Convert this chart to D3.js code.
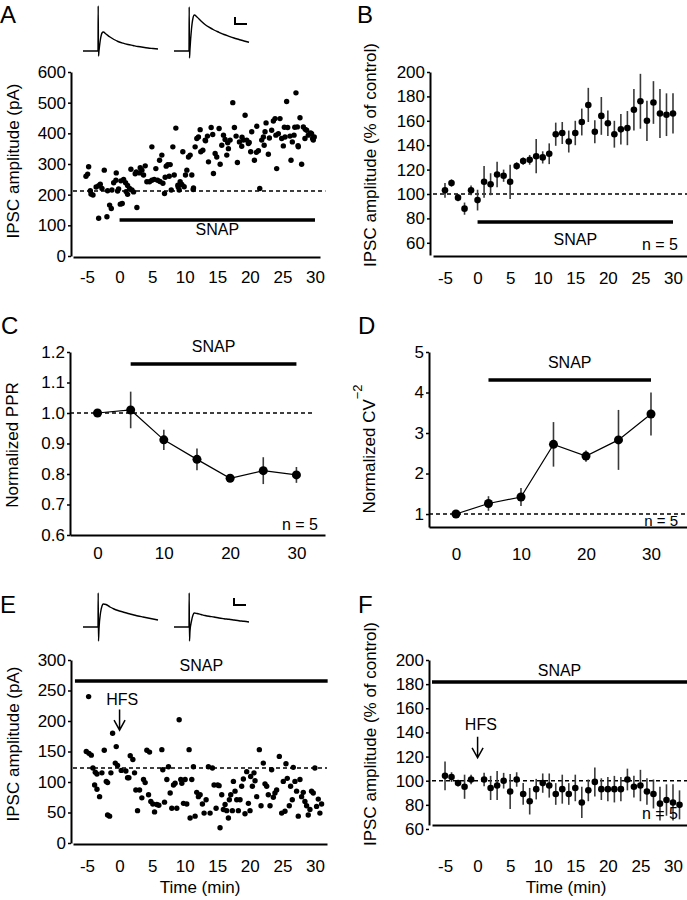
<!DOCTYPE html>
<html><head><meta charset="utf-8">
<script src="https://cdn.jsdelivr.net/npm/d3@7"></script>
<style>
body{margin:0;background:#fff;}
svg{display:block;}
</style></head><body>
<svg id="fig" width="687" height="900"></svg>
<script>
// ---------------- DATA ----------------
// Panel A: single-cell IPSC amplitudes (time in min, amplitude in pA)
const timeA = [-4.75,-5.16,-4.90,-4.49,-4.39,-4.08,-3.21,-3.21,-2.96,-2.35,-1.94,-1.84,-1.53,-1.27,-0.91,-0.56,-0.51,-1.17,-0.15,0.11,0.41,-0.30,0.62,0.92,1.23,1.54,1.74,1.23,1.89,2.15,2.66,2.56,3.07,3.43,3.17,3.94,3.68,4.19,4.60,4.96,4.96,5.32,5.57,5.83,6.14,6.49,6.65,6.90,7.16,7.41,7.62,7.77,7.93,8.18,8.39,8.64,8.95,9.15,9.30,9.56,9.71,9.92,10.12,10.33,10.58,10.84,11.09,11.35,11.60,11.86,12.11,12.37,12.47,12.78,13.14,13.49,13.65,14.06,14.41,14.67,14.92,15.28,15.44,15.69,15.95,16.20,16.46,16.71,16.97,17.38,17.63,17.89,18.09,18.40,18.75,19.01,19.27,19.52,19.78,20.13,20.29,20.70,21.06,21.31,21.52,21.82,22.08,22.33,22.49,22.84,23.00,23.35,23.61,23.87,24.12,24.38,24.63,24.89,25.14,25.40,25.65,25.81,26.16,26.32,26.52,26.78,27.08,27.29,27.44,27.70,27.95,28.21,28.46,28.72,28.97,29.33,29.64,29.89,29.74,29.48,-3.60,-2.70,0.20,1.00,2.40,6.20,7.00,9.00,11.30,13.20,14.30,16.60,18.80,19.90,21.00,22.20,24.00,25.30,26.90,28.50,27.40];
const ampA = [291,260,267,213,202,199,123,229,234,280,128,213,166,155,239,247,271,215,219,169,171,212,250,239,230,220,283,201,215,209,158,274,271,280,288,294,264,242,242,247,356,250,285,247,312,329,237,204,293,298,260,298,215,356,264,417,231,215,242,233,340,226,264,280,323,329,264,222,356,383,388,412,340,345,378,391,307,419,269,334,323,416,299,361,394,380,329,350,378,500,419,391,305,372,358,378,459,378,367,340,405,312,423,343,220,378,388,405,434,332,385,410,440,448,285,399,448,383,359,388,504,419,391,312,372,394,532,421,356,451,299,421,383,410,394,401,383,388,378,399,225,220,245,210,268,243,257,225,217,376,396,369,387,370,338,361,394,420,420,413,360];
const baselineA = 212;

// Panel B: mean IPSC amplitude (% of control) ± SEM
const timeB = [-5,-4,-3,-2,-1,0,1,2,3,4,5,6,7,8,9,10,11,12,13,14,15,16,17,18,19,20,21,22,23,24,25,26,27,28,29,30];
const meanB = [103,109,97,88,103,95,110,108,116,115,110,123,127,128,131,130,133,149,150,143,150,159,173,151,164,158,149,153,154,169,176,160,175,166,165,166];
const semB  = [6,3,3,5,4,8.5,13,9,10.5,5,14,3,3,4,14,5,8.5,9.5,9,9,10,11,14,9.5,15.5,10.5,11,12.5,14,17,22.5,16.5,17.5,20,17.5,16.5];

// Panel C: normalized PPR
const timeC = [0,5,10,15,20,25,30];
const pprC  = [1.0,1.01,0.912,0.848,0.786,0.811,0.797];
const semC  = [0,0.06,0.033,0.036,0.011,0.044,0.026];

// Panel D: normalized CV^-2
const timeD = [0,5,10,15,20,25,30];
const cvD   = [1.0,1.26,1.42,2.72,2.43,2.83,3.47];
const semD  = [0,0.18,0.22,0.55,0.14,0.74,0.53];

// Panel E: single-cell IPSC amplitudes with HFS in SNAP
const timeE = [-4.75,-5.11,-4.70,-4.34,-4.09,-3.73,-3.47,-3.83,-3.47,-3.07,-2.71,-2.35,-2.04,-1.84,-1.84,-1.53,-1.33,-1.07,-0.66,-0.51,-0.31,0.26,0.97,1.23,1.43,1.64,2.04,2.30,2.50,2.76,3.07,3.42,3.68,3.93,4.19,4.60,4.45,4.80,5.11,5.37,5.72,6.03,6.49,6.64,6.90,7.26,7.51,7.77,8.02,8.28,8.53,8.79,9.15,9.40,9.56,9.81,10.07,10.32,10.68,10.83,11.09,11.34,11.60,11.85,12.11,12.37,12.72,12.98,13.29,13.64,13.90,14.26,14.51,14.82,15.07,15.28,15.43,15.69,15.94,16.20,16.45,16.71,16.86,17.07,17.32,17.48,17.73,17.99,18.24,18.50,18.75,19.01,19.26,19.52,19.78,20.03,20.13,20.39,20.64,20.80,21.05,21.46,21.72,22.07,22.33,22.59,22.84,23.10,23.35,23.61,23.86,24.12,24.53,24.89,25.14,25.40,25.55,25.75,26.06,26.26,26.52,26.67,26.93,27.18,27.44,27.70,27.95,28.21,28.46,28.72,28.97,29.23,29.48,29.74,29.99,30.25,30.51,30.76,31.02];
const ampE = [240,150,147,144,123,116,113,95,88,76,115,152,101,99,46,44,115,180,131,158,127,119,118,107,107,143,137,115,87,53,87,74,104,99,152,149,79,68,64,51,63,62,153,120,67,104,125,82,57,95,98,57,202,104,98,65,104,64,153,41,104,125,44,83,76,79,64,49,71,125,49,123,95,57,95,94,25,79,55,63,53,41,71,79,53,101,85,71,53,71,93,105,48,117,65,53,109,93,115,102,76,153,61,131,97,93,79,61,120,75,82,87,142,49,101,52,130,106,61,93,71,124,101,85,44,104,76,83,68,61,46,55,85,82,123,60,72,49,64];
const baselineE = 123;

// Panel F: mean IPSC amplitude (% of control) ± SEM, HFS in SNAP
const timeF = [-5,-4,-3,-2,-1,1,2,3,4,5,6,7,8,9,10,11,12,13,14,15,16,17,18,19,20,21,22,23,24,25,26,27,28,29,30,31];
const meanF = [104,103,98,95,101,101,94,96,100,91,101,89,83,93,98,96,89,93,89,94,82,92,99,93,93,93,93,101,95,96,91,89,81,84,82,80];
const semF  = [12,4,2.5,10,4,5.5,10,12,6.5,14.5,6,9,11,8.5,8,10,9,12,9,11,13,9,12,9,10,11,10,9,9,13,11,12,14,13,15,12];

// Tick labels
const ticksTime  = [-5,0,5,10,15,20,25,30];
const ticksYA    = [0,100,200,300,400,500,600];
const ticksYB    = [60,80,100,120,140,160,180,200];
const ticksTimeC = [0,10,20,30];
const ticksYC    = [0.6,0.7,0.8,0.9,1.0,1.1,1.2];
const ticksYD    = [1,2,3,4,5];
const ticksYE    = [0,50,100,150,200,250,300];
const ticksYF    = [60,80,100,120,140,160,180,200];

// Example IPSC traces (time in ms, current in arbitrary units; baseline 0)
const traceT1 = [0,15,15.2,15.5,16,17.5,19,20.3,23,27,31,35,40,45,50,55,60,65,70,75];
const traceA1 = [0,0,45,-5,0,12,18,19,17,14,11.5,9.5,7.8,6.5,5.5,4.5,3.7,3,2.5,2];
const traceA2 = [0,0,44,-7,2,22,33,36,34,30,26.5,23.8,21,18.7,16.5,14.7,13,11.5,10,8.7];
const traceE1 = [0,0,34,-14,-2,14,21,23,22.5,20,18,16.5,15,13.5,12.3,11,10,9,8,7];
const traceE2 = [0,0,34,-14,-4,6,12,14,13.5,12.5,11.5,10.7,10,9,8.3,7.7,7,6.3,5.7,5];

// ---------------- DRAWING ----------------
const FONT = '"Liberation Sans", Arial, Helvetica, sans-serif';
const svg = d3.select("#fig");

function makePanel(c) {
  const g = svg.append("g");
  const x = d3.scaleLinear().domain(c.xDom).range(c.xRng);
  const y = d3.scaleLinear().domain(c.yDom).range(c.yRng);
  const yAx = g.append("g").attr("transform", `translate(${c.yAxisX},0)`)
    .call(d3.axisLeft(y).tickValues(c.yTicks).tickFormat(c.yFmt || (d => String(d)))
      .tickSizeInner(3).tickSizeOuter(0).tickPadding(2));
  const xAx = g.append("g").attr("transform", `translate(0,${c.xAxisY})`)
    .call(d3.axisBottom(x).tickValues(c.xTicks).tickFormat(d => String(d))
      .tickSizeInner(0).tickSizeOuter(0).tickPadding(c.xPad));
  [yAx, xAx].forEach(a => {
    a.select(".domain").attr("stroke", "#000").attr("stroke-width", 2);
    a.selectAll(".tick line").attr("stroke", "#000").attr("stroke-width", 1.5);
    a.selectAll("text").attr("font-size", 17).attr("font-family", FONT).attr("fill", "#000");
  });
  return {g, x, y};
}

function dashed(P, x0, x1, v) {
  P.g.append("line").attr("x1", P.x(x0)).attr("x2", P.x(x1))
    .attr("y1", P.y(v)).attr("y2", P.y(v))
    .attr("stroke", "#000").attr("stroke-width", 1.5).attr("stroke-dasharray", "4,3");
}
function bar(P, x0, x1, v, label, dyLabel) {
  P.g.append("line").attr("x1", P.x(x0)).attr("x2", P.x(x1))
    .attr("y1", P.y(v)).attr("y2", P.y(v))
    .attr("stroke", "#000").attr("stroke-width", 3.5);
  text(P.x((x0 + x1) / 2), P.y(v) + dyLabel, label, 16, "middle");
}
function text(x, y, s, size, anchor) {
  return svg.append("text").attr("x", x).attr("y", y).text(s)
    .attr("font-family", FONT).attr("font-size", size).attr("text-anchor", anchor || "start").attr("fill", "#000");
}
function yLabel(x, y, s) {
  return svg.append("text").attr("transform", `translate(${x},${y}) rotate(-90)`)
    .attr("text-anchor", "middle").attr("font-family", FONT).attr("font-size", 17).attr("fill", "#000").text(s);
}
function scatter(P, xs, ys, r) {
  P.g.selectAll(null).data(d3.zip(xs, ys)).join("circle")
    .attr("cx", d => P.x(d[0])).attr("cy", d => P.y(d[1])).attr("r", r).attr("fill", "#000");
}
function errDots(P, xs, ms, ss, r) {
  const d = d3.zip(xs, ms, ss);
  P.g.selectAll(null).data(d.filter(e => e[2] > 0)).join("line")
    .attr("x1", e => P.x(e[0])).attr("x2", e => P.x(e[0]))
    .attr("y1", e => P.y(e[1] - e[2])).attr("y2", e => P.y(e[1] + e[2]))
    .attr("stroke", "#3a3a3a").attr("stroke-width", 1.6);
  P.g.selectAll(null).data(d).join("circle")
    .attr("cx", e => P.x(e[0])).attr("cy", e => P.y(e[1])).attr("r", r).attr("fill", "#000");
}
function connect(P, xs, ms) {
  P.g.append("path").datum(d3.zip(xs, ms))
    .attr("d", d3.line().x(e => P.x(e[0])).y(e => P.y(e[1])))
    .attr("fill", "none").attr("stroke", "#000").attr("stroke-width", 1.2);
}
function trace(ts, is, x0, y0) {
  const sx = d3.scaleLinear().domain([0, 75]).range([x0, x0 + 75]);
  const sy = d3.scaleLinear().domain([0, 50]).range([y0, y0 - 50]);
  svg.append("path").datum(d3.zip(ts, is))
    .attr("d", d3.line().x(e => sx(e[0])).y(e => sy(e[1])).curve(d3.curveMonotoneX))
    .attr("fill", "none").attr("stroke", "#000").attr("stroke-width", 1.4);
  return {sx, sy};
}
function scaleBar(S, t0, t1, a0, a1) {
  svg.append("path")
    .attr("d", `M${S.sx(t0)},${S.sy(a1)}V${S.sy(a0)}H${S.sx(t1)}`)
    .attr("fill", "none").attr("stroke", "#000").attr("stroke-width", 2);
}
function arrow(P, t, vTop, vBot) {
  const x = P.x(t), y0 = P.y(vTop), y1 = P.y(vBot);
  P.g.append("path").attr("d", `M${x},${y0}V${y1}M${x - 5.5},${y1 - 10}L${x},${y1}L${x + 5.5},${y1 - 10}`)
    .attr("fill", "none").attr("stroke", "#000").attr("stroke-width", 1.5);
}

// ---- Panel A ----
const A = makePanel({xDom:[-7.15,30.77], xRng:[73,320], yDom:[0,600], yRng:[256,72],
  yAxisX:71, xAxisY:257, yTicks:ticksYA, xTicks:ticksTime, xPad:14});
dashed(A, -7.15, 31.6, baselineA);
bar(A, 0, 30, 117, "SNAP", 15);
scatter(A, timeA, ampA, 2.7);
yLabel(19, 161, "IPSC amplitude (pA)");
const tA1 = trace(traceT1, traceA1, 83, 51);
const tA2 = trace(traceT1, traceA2, 174, 51);
scaleBar(tA2, 61, 73, 27, 34);

// ---- Panel B ----
const B = makePanel({xDom:[-6.84,32.15], xRng:[433,687], yDom:[50,200], yRng:[255,72],
  yAxisX:430, xAxisY:256, yTicks:ticksYB, xTicks:ticksTime, xPad:16});
dashed(B, -6.84, 32.15, 100);
bar(B, 0, 30, 77, "SNAP", 23);
errDots(B, timeB, meanB, semB, 3.3);
text(678, 250, "n = 5", 16, "end");
yLabel(376, 155, "IPSC amplitude (% of control)");

// ---- Panel C ----
const C = makePanel({xDom:[-4.15,34.31], xRng:[70,325], yDom:[0.6,1.2], yRng:[535,352],
  yAxisX:70, xAxisY:535, yTicks:ticksYC, yFmt:d3.format(".1f"), xTicks:ticksTimeC, xPad:12});
dashed(C, -4.15, 32.8, 1.0);
bar(C, 5, 30, 1.161, "SNAP", -12);
connect(C, timeC, pprC);
errDots(C, timeC, pprC, semC, 4.5);
text(318, 530, "n = 5", 16, "end");
yLabel(18, 445, "Normalized PPR");

// ---- Panel D ----
const D = makePanel({xDom:[-4.15,35.54], xRng:[429,687], yDom:[0.68,5], yRng:[527,352],
  yAxisX:429, xAxisY:527, yTicks:ticksYD, xTicks:ticksTimeC, xPad:21});
dashed(D, -4.15, 35.54, 1.0);
bar(D, 5, 30, 4.31, "SNAP", -12);
connect(D, timeD, cvD);
errDots(D, timeD, cvD, semD, 4.5);
text(678, 526, "n = 5", 15, "end");
const dl = svg.append("text").attr("transform", "translate(375,449) rotate(-90)")
  .attr("text-anchor", "middle").attr("font-family", FONT).attr("font-size", 17).attr("fill", "#000");
dl.append("tspan").text("Normalized CV");
dl.append("tspan").attr("dy", -13).attr("font-size", 13).text("\u22122");

// ---- Panel E ----
const E = makePanel({xDom:[-7.15,31.85], xRng:[73,327], yDom:[0,300], yRng:[843,660],
  yAxisX:71, xAxisY:844, yTicks:ticksYE, xTicks:ticksTime, xPad:16});
dashed(E, -7.15, 31.85, baselineE);
bar(E, -6.85, 31.95, 265.5, "SNAP", -10);
scatter(E, timeE, ampE, 2.7);
text(E.x(0.4), 705, "HFS", 16, "middle");
arrow(E, 0, 219, 185);
text(200, 893, "Time (min)", 17, "middle");
yLabel(19, 744, "IPSC amplitude (pA)");
const tE1 = trace(traceT1, traceE1, 83, 627);
const tE2 = trace(traceT1, traceE2, 174, 627);
scaleBar(tE2, 60, 72, 22, 29);

// ---- Panel F ----
const F = makePanel({xDom:[-7.0,32.15], xRng:[432,687], yDom:[63.3,200], yRng:[825,660],
  yAxisX:429, xAxisY:825, yTicks:ticksYF, xTicks:ticksTime, xPad:35});
dashed(F, -7.0, 32.15, 100);
bar(F, -7.0, 32.15, 181.8, "SNAP", -6);
errDots(F, timeF, meanF, semF, 3.3);
text(F.x(0.5), 730, "HFS", 16, "middle");
arrow(F, 0, 136.5, 119);
text(678, 819, "n = 5", 16, "end");
text(566, 893, "Time (min)", 17, "middle");
yLabel(376, 734, "IPSC amplitude (% of control)");

// ---- Panel letters ----
[["A",0,23],["B",357,23],["C",1,334],["D",358,334],["E",0,613],["F",358,613]]
  .forEach(l => text(l[1], l[2], l[0], 24, "start"));
</script>
</body></html>
